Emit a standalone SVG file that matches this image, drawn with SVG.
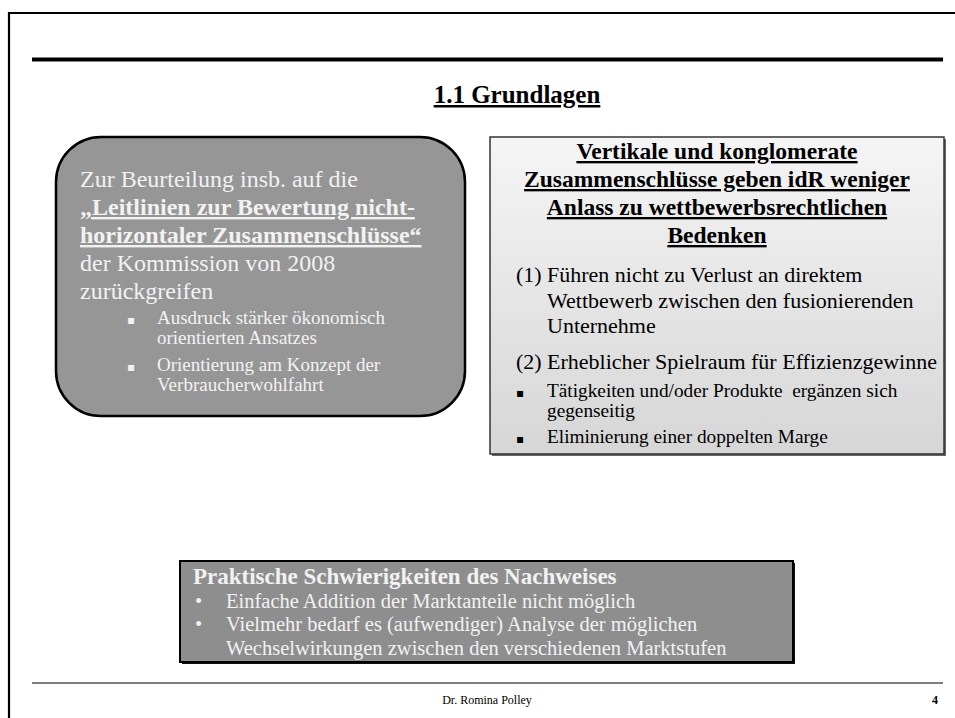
<svg xmlns="http://www.w3.org/2000/svg" width="955" height="718" viewBox="0 0 955 718">
<defs>
<linearGradient id="gr" x1="0" y1="0" x2="0" y2="1">
<stop offset="0" stop-color="#f5f5f5"/>
<stop offset="1" stop-color="#d6d6d6"/>
</linearGradient>
<style>
.s{font-family:"Liberation Serif","Times New Roman",serif}
.b{font-weight:bold}
.u{text-decoration:underline}
.w{fill:#f2f2f2}
.k{fill:#000}
.bl{font-family:"DejaVu Sans","Liberation Serif",sans-serif}
</style>
</defs>
<rect width="955" height="718" fill="#fff"/>
<g id="frame">
<path d="M9 718 V13 H955" fill="none" stroke="#000" stroke-width="2.2"/>
<line x1="32" y1="59.5" x2="943" y2="59.5" stroke="#000" stroke-width="4"/>
<line x1="32" y1="683" x2="943" y2="683" stroke="#555" stroke-width="1.3"/>
</g>
<g id="title">
<text class="s b u k" x="517" y="103" font-size="25" text-anchor="middle">1.1 Grundlagen</text>
</g>
<g id="left-box">
<rect x="56" y="137" width="409" height="279" rx="45" ry="45" fill="#969696" stroke="#000" stroke-width="2.5"/>
<g class="s w" font-size="24">
<text x="80" y="187">Zur Beurteilung insb. auf die</text>
<text x="80" y="215" class="b u">„Leitlinien zur Bewertung nicht-</text>
<text x="80" y="243" class="b u">horizontaler Zusammenschlüsse“</text>
<text x="80" y="271">der Kommission von 2008</text>
<text x="80" y="299">zurückgreifen</text>
</g>
<g class="w" font-size="19">
<text class="bl" x="127" y="324" font-size="12">▪</text>
<text class="s" x="157" y="324">Ausdruck stärker ökonomisch</text>
<text class="s" x="157" y="344">orientierten Ansatzes</text>
<text class="bl" x="127" y="371" font-size="12">▪</text>
<text class="s" x="157" y="371">Orientierung am Konzept der</text>
<text class="s" x="157" y="391">Verbraucherwohlfahrt</text>
</g>
</g>
<g id="right-box">
<rect x="492" y="139" width="454" height="317" fill="#666"/>
<rect x="490" y="137" width="454" height="317" fill="url(#gr)" stroke="#333" stroke-width="1.5"/>
<g class="s b u k" font-size="23.5" text-anchor="middle">
<text x="717" y="159">Vertikale und konglomerate</text>
<text x="717" y="187">Zusammenschlüsse geben idR weniger</text>
<text x="717" y="215">Anlass zu wettbewerbsrechtlichen</text>
<text x="717" y="243">Bedenken</text>
</g>
<g class="s k" font-size="22">
<text x="516" y="282">(1)</text>
<text x="547" y="282">Führen nicht zu Verlust an direktem</text>
<text x="547" y="308">Wettbewerb zwischen den fusionierenden</text>
<text x="547" y="333">Unternehme</text>
<text x="516" y="369">(2)</text>
<text x="547" y="369">Erheblicher Spielraum für Effizienzgewinne</text>
</g>
<g class="k" font-size="19.3">
<text class="bl" x="516" y="397" font-size="12">▪</text>
<text class="s" x="547" y="397" xml:space="preserve">Tätigkeiten und/oder Produkte  ergänzen sich</text>
<text class="s" x="547" y="417">gegenseitig</text>
<text class="bl" x="516" y="443" font-size="12">▪</text>
<text class="s" x="547" y="443">Eliminierung einer doppelten Marge</text>
</g>
</g>
<g id="bottom-box">
<rect x="182" y="563" width="613" height="101" fill="#111"/>
<rect x="180" y="561" width="613" height="101" fill="#8e8e8e" stroke="#000" stroke-width="2"/>
<text class="s b w" x="193" y="584" font-size="23">Praktische Schwierigkeiten des Nachweises</text>
<g class="s w" font-size="20.5">
<text x="195" y="607.5">•</text>
<text x="226" y="607.5">Einfache Addition der Marktanteile nicht möglich</text>
<text x="195" y="631">•</text>
<text x="226" y="631">Vielmehr bedarf es (aufwendiger) Analyse der möglichen</text>
<text x="226" y="654.5">Wechselwirkungen zwischen den verschiedenen Marktstufen</text>
</g>
</g>
<g id="footer">
<text class="s k" x="487" y="704" font-size="12" text-anchor="middle">Dr. Romina Polley</text>
<text class="s b k" x="932" y="704" font-size="12">4</text>
</g>
<g id="connectors"/>
</svg>
